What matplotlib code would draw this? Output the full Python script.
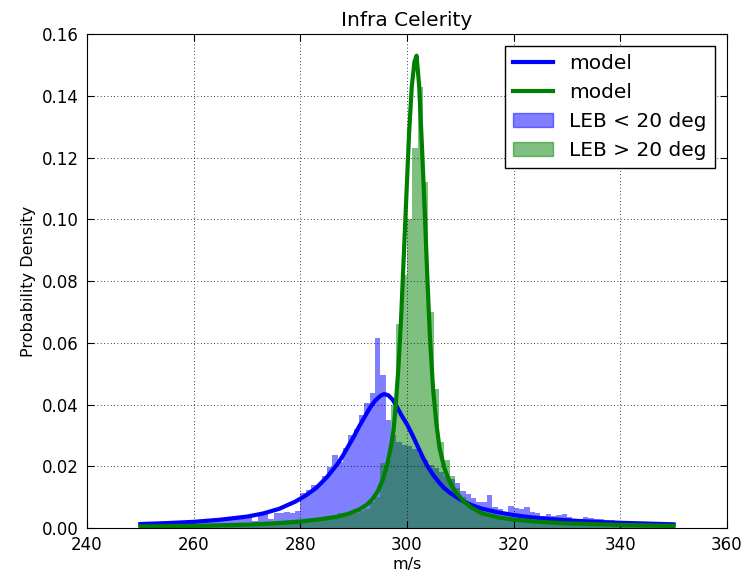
import numpy as np
import matplotlib
matplotlib.use("Agg")
import matplotlib.pyplot as plt

# histogram bins (1 m/s wide, 250..350)
bin_edges = np.arange(250, 351)

# LEB < 20 deg, density per bin
blue_hist = [
    0.0010, 0.0012, 0.0010, 0.0015, 0.0012, 0.0015, 0.0018, 0.0012, 0.0016, 0.0020,
    0.0018, 0.0024, 0.0020, 0.0028, 0.0022, 0.0030, 0.0034, 0.0028, 0.0038, 0.0030,
    0.0040, 0.0022, 0.0042, 0.0048, 0.0030, 0.0050, 0.0048, 0.0052, 0.0050, 0.0055,
    0.0113, 0.0124, 0.0138, 0.0140, 0.0169, 0.0199, 0.0237, 0.0215, 0.0260, 0.0300,
    0.0320, 0.0365, 0.0405, 0.0437, 0.0616, 0.0496, 0.0350, 0.0300, 0.0280, 0.0270,
    0.0265, 0.0255, 0.0240, 0.0220, 0.0205, 0.0195, 0.0180, 0.0170, 0.0160, 0.0145,
    0.0120, 0.0110, 0.0096, 0.0085, 0.0085, 0.0107, 0.0068, 0.0060, 0.0050, 0.0071,
    0.0064, 0.0060, 0.0068, 0.0053, 0.0050, 0.0040, 0.0045, 0.0038, 0.0042, 0.0044,
    0.0035, 0.0030, 0.0030, 0.0036, 0.0033, 0.0030, 0.0028, 0.0025, 0.0026, 0.0024,
    0.0022, 0.0020, 0.0020, 0.0018, 0.0016, 0.0015, 0.0013, 0.0012, 0.0011, 0.0010,
]

# LEB > 20 deg, density per bin
green_hist = [
    0.0004, 0.0004, 0.0005, 0.0004, 0.0005, 0.0005, 0.0004, 0.0006, 0.0005, 0.0006,
    0.0006, 0.0007, 0.0006, 0.0008, 0.0007, 0.0008, 0.0009, 0.0008, 0.0010, 0.0009,
    0.0010, 0.0011, 0.0010, 0.0012, 0.0012, 0.0014, 0.0013, 0.0015, 0.0016, 0.0018,
    0.0020, 0.0022, 0.0020, 0.0025, 0.0028, 0.0030, 0.0035, 0.0048, 0.0040, 0.0045,
    0.0050, 0.0055, 0.0060, 0.0085, 0.0100, 0.0210, 0.0220, 0.0400, 0.0660, 0.0820,
    0.1000, 0.1230, 0.1430, 0.1120, 0.0700, 0.0450, 0.0280, 0.0220, 0.0170, 0.0130,
    0.0100, 0.0080, 0.0065, 0.0055, 0.0045, 0.0040, 0.0035, 0.0032, 0.0030, 0.0028,
    0.0026, 0.0024, 0.0022, 0.0020, 0.0019, 0.0018, 0.0017, 0.0016, 0.0015, 0.0014,
    0.0013, 0.0013, 0.0012, 0.0012, 0.0011, 0.0011, 0.0010, 0.0010, 0.0010, 0.0010,
    0.0009, 0.0009, 0.0009, 0.0008, 0.0008, 0.0008, 0.0008, 0.0007, 0.0007, 0.0007,
]

# fitted model curves
blue_model_x = [250, 255, 260, 265, 270, 273, 276, 279, 281, 283, 285, 287, 288, 289,
                290, 291, 292, 293, 294, 295, 295.7, 296.5, 297.3, 298, 299, 300, 301,
                302, 303, 304, 305, 306, 307, 308, 310, 312, 314, 317, 320, 323, 327,
                332, 338, 344, 350]
blue_model_y = [0.0013, 0.0016, 0.0020, 0.0027, 0.0037, 0.0047, 0.0062, 0.0085, 0.0105,
                0.0130, 0.0165, 0.0208, 0.0235, 0.0265, 0.0295, 0.0328, 0.0358, 0.0388,
                0.0412, 0.0428, 0.0434, 0.0430, 0.0416, 0.0396, 0.0364, 0.0336, 0.0302,
                0.0265, 0.0228, 0.0196, 0.0170, 0.0148, 0.0129, 0.0115, 0.0092, 0.0075,
                0.0063, 0.0051, 0.0042, 0.0035, 0.0029, 0.0023, 0.0018, 0.0015, 0.0012]

green_model_x = [250, 260, 270, 275, 280, 284, 287, 289, 291, 292.5, 293.5, 294.5, 295.5,
                 296.3, 297, 297.5, 297.9, 298.4, 298.9, 299.4, 299.9, 300.4, 300.9,
                 301.4, 301.8, 302.3, 302.8, 303.3, 303.8, 304.3, 304.9, 305.5, 306.1,
                 307, 308, 309, 310.5, 312, 314, 317, 320, 325, 330, 340, 350]
green_model_y = [0.0005, 0.0007, 0.0011, 0.0015, 0.0021, 0.0029, 0.0037, 0.0046, 0.0060,
                 0.0076, 0.0093, 0.0118, 0.0158, 0.0205, 0.0265, 0.0320, 0.0400, 0.0520,
                 0.0680, 0.0880, 0.1080, 0.1280, 0.1430, 0.1510, 0.1530, 0.1430, 0.1240,
                 0.1040, 0.0820, 0.0620, 0.0450, 0.0340, 0.0260, 0.0195, 0.0150, 0.0120,
                 0.0089, 0.0067, 0.0048, 0.0035, 0.0027, 0.0020, 0.0015, 0.0010, 0.0007]

fig = plt.figure(figsize=(7.44, 5.73), dpi=100)
ax = fig.add_axes([0.117, 0.0785, 0.860, 0.862])

ax.hist(bin_edges[:-1], bins=bin_edges, weights=blue_hist, histtype='stepfilled',
        color='blue', alpha=0.5, label='LEB < 20 deg')
ax.hist(bin_edges[:-1], bins=bin_edges, weights=green_hist, histtype='stepfilled',
        color='green', alpha=0.5, label='LEB > 20 deg')
ax.plot(blue_model_x, blue_model_y, color='blue', lw=3, label='model')
ax.plot(green_model_x, green_model_y, color='green', lw=3, label='model')

ax.set_xlim(240, 360)
ax.set_ylim(0, 0.16)
ax.set_xticks(np.arange(240, 361, 20))
ax.set_yticks(np.arange(0, 0.161, 0.02))
ax.yaxis.set_major_formatter(matplotlib.ticker.FormatStrFormatter('%.2f'))
ax.tick_params(direction='in', top=True, right=True, labelsize=12, length=5, pad=6)
ax.grid(True, color='k', linewidth=0.6, dashes=(1, 3))

ax.set_title('Infra Celerity', fontsize=14.5)
ax.set_xlabel('m/s', fontsize=11.5, labelpad=2)
ax.set_ylabel('Probability Density', fontsize=11.5)

# lines first, then the histogram patches
handles, labels = ax.get_legend_handles_labels()
order = [2, 3, 0, 1]
leg = ax.legend([handles[i] for i in order], [labels[i] for i in order],
                loc='upper right', fontsize=14.5, fancybox=False, framealpha=1,
                edgecolor='k', borderaxespad=0.6)
leg.get_frame().set_linewidth(1)
# legend swatches carry a darker outline in the original
for h, c in zip(leg.legend_handles[2:], ['blue', 'green']):
    h.set_edgecolor(c)
    h.set_linewidth(1)

fig.savefig('out.png', dpi=100)
